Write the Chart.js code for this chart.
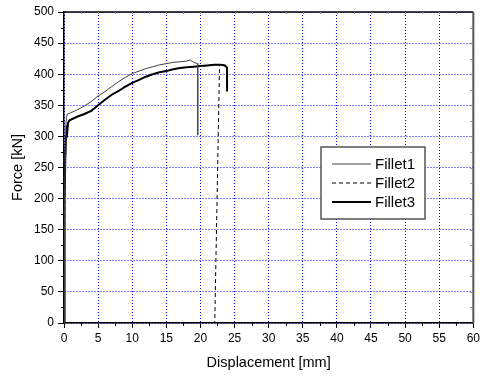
<!DOCTYPE html>
<html>
<head>
<meta charset="utf-8">
<script src="https://cdn.jsdelivr.net/npm/chart.js@4.4.1/dist/chart.umd.min.js"></script>
<style>
  html, body { margin: 0; padding: 0; background: #fff; }
  #wrap { width: 483px; height: 376px; }
</style>
</head>
<body>
<div id="wrap"><canvas id="myChart" width="483" height="376"></canvas></div>
<script>
const seriesLabels = ['Fillet1', 'Fillet2', 'Fillet3'];

const fillet1X = [0, 0.05, 0.12, 0.2, 0.28, 0.35, 0.5, 1, 2, 3, 4, 5, 6, 7, 8, 9, 10, 11, 12, 13, 14, 15, 16, 17, 18, 18.5, 19, 19.6, 19.6];
const fillet1Y = [0, 100, 200, 270, 315, 330, 336, 338, 343, 349, 356, 365, 372, 380, 388, 395, 401, 405, 409, 412, 415, 417, 419, 420, 421, 423, 419, 417, 302];

const fillet2X = [0, 0.05, 0.12, 0.2, 0.3, 0.5, 0.8, 2, 3, 4, 5, 6, 7, 8, 9, 10, 11, 12, 13, 14, 15, 16, 17, 18, 19, 20, 21, 22, 22.8, 22.1];
const fillet2Y = [0, 100, 200, 270, 305, 318, 326, 332, 336, 341, 350, 359, 367, 373, 380, 386, 391, 396, 400, 403, 405, 408, 410, 411, 412, 413, 414, 415, 415, 0];

const fillet3X = [0, 0.05, 0.12, 0.2, 0.3, 0.4, 0.5, 0.6, 0.8, 2, 3, 4, 5, 6, 7, 8, 9, 10, 11, 12, 13, 14, 15, 16, 17, 18, 19, 20, 21, 22, 23, 23.6, 23.9, 23.9];
const fillet3Y = [0, 100, 200, 270, 300, 318, 310, 322, 326, 332, 336, 341, 350, 359, 367, 373, 380, 386, 391, 396, 400, 403, 405, 408, 410, 411, 412, 413, 414, 415, 415, 414, 410, 372];

const xTicks = [0, 5, 10, 15, 20, 25, 30, 35, 40, 45, 50, 55, 60];
const yTicks = [0, 50, 100, 150, 200, 250, 300, 350, 400, 450, 500];

const FONT = 'Arial, "Liberation Sans", sans-serif';

function pts(xs, ys) {
  return xs.map((x, i) => ({ x: x, y: ys[i] }));
}

// frame, minor ticks on all sides
const framePlugin = {
  id: 'frame',
  afterDraw(chart) {
    const { ctx, chartArea: a, scales: { x, y } } = chart;
    ctx.save();
    ctx.setLineDash([]);
    ctx.strokeStyle = '#000';
    ctx.lineWidth = 1.5;
    ctx.beginPath();
    ctx.moveTo(a.left, a.top);
    ctx.lineTo(a.right, a.top);
    ctx.stroke();
    ctx.strokeStyle = '#555';
    ctx.lineWidth = 2;
    ctx.beginPath();
    ctx.moveTo(a.right, a.top);
    ctx.lineTo(a.right, a.bottom);
    ctx.stroke();

    ctx.strokeStyle = '#000';
    ctx.lineWidth = 1;
    ctx.beginPath();
    for (let v = 2.5; v < 60; v += 5) {
      const px = Math.round(x.getPixelForValue(v)) + 0.5;
      ctx.moveTo(px, a.bottom);
      ctx.lineTo(px, a.bottom + 3);
    }
    for (let v = 25; v < 500; v += 50) {
      const py = Math.round(y.getPixelForValue(v)) + 0.5;
      ctx.moveTo(a.left - 3, py);
      ctx.lineTo(a.left, py);
    }
    ctx.stroke();

    ctx.strokeStyle = '#888';
    ctx.beginPath();
    for (let v = 2.5; v < 60; v += 2.5) {
      const px = Math.round(x.getPixelForValue(v)) + 0.5;
      ctx.moveTo(px, a.top);
      ctx.lineTo(px, a.top + 2);
    }
    for (let v = 25; v < 500; v += 25) {
      const py = Math.round(y.getPixelForValue(v)) + 0.5;
      ctx.moveTo(a.right - 3, py);
      ctx.lineTo(a.right, py);
    }
    ctx.stroke();
    ctx.restore();
  }
};

// boxed legend inside the plot
const boxLegend = {
  id: 'boxLegend',
  afterDraw(chart) {
    const { ctx } = chart;
    const bx = 321, by = 147, bw = 104, bh = 72;
    ctx.save();
    ctx.fillStyle = '#fff';
    ctx.fillRect(bx, by, bw, bh);
    ctx.strokeStyle = '#555';
    ctx.lineWidth = 1.5;
    ctx.strokeRect(bx, by, bw, bh);
    ctx.font = '15px ' + FONT;
    ctx.textBaseline = 'middle';
    ctx.fillStyle = '#000';
    chart.data.datasets.forEach((ds, i) => {
      const ly = by + 17 + i * 19;
      ctx.strokeStyle = ds.borderColor;
      ctx.lineWidth = ds.borderWidth;
      ctx.setLineDash(ds.borderDash || []);
      ctx.beginPath();
      ctx.moveTo(332, ly);
      ctx.lineTo(371, ly);
      ctx.stroke();
      ctx.setLineDash([]);
      ctx.fillText(ds.label, 375, ly + 1);
    });
    ctx.restore();
  }
};

const data = {
  datasets: [
    {
      label: seriesLabels[0],
      data: pts(fillet1X, fillet1Y),
      borderColor: '#444',
      borderWidth: 1,
    },
    {
      label: seriesLabels[1],
      data: pts(fillet2X, fillet2Y),
      borderColor: '#000',
      borderWidth: 1,
      borderDash: [4, 3],
    },
    {
      label: seriesLabels[2],
      data: pts(fillet3X, fillet3Y),
      borderColor: '#000',
      borderWidth: 2,
    },
  ],
};

// grid lines take their dash from border.dash in Chart.js v4
const gridOpts = { color: '#0000ff', lineWidth: 1, tickColor: '#000', tickBorderDash: [] };
const borderOpts = { color: '#000', width: 1.5, dash: [1, 2] };

const config = {
  type: 'scatter',
  data: data,
  options: {
    responsive: false,
    animation: false,
    showLine: true,
    elements: { point: { radius: 0 }, line: { tension: 0, fill: false } },
    layout: { padding: { top: 12, right: 7, left: 0, bottom: 0 } },
    plugins: { legend: { display: false }, tooltip: { enabled: false } },
    scales: {
      x: {
        type: 'linear',
        min: 0,
        max: 60,
        afterFit(s) { s.height = 53; },
        afterBuildTicks(s) { s.ticks = xTicks.map(v => ({ value: v })); },
        ticks: { color: '#000', font: { family: FONT, size: 12 }, padding: 3, maxRotation: 0 },
        grid: Object.assign({ tickLength: 5 }, gridOpts),
        border: borderOpts,
        title: { display: true, text: 'Displacement [mm]', color: '#000', font: { family: FONT, size: 14.5 }, padding: { top: 4, bottom: 4 } },
      },
      y: {
        type: 'linear',
        min: 0,
        max: 500,
        afterFit(s) { s.width = 64; },
        afterBuildTicks(s) { s.ticks = yTicks.map(v => ({ value: v })); },
        ticks: { color: '#000', font: { family: FONT, size: 12 }, padding: 4 },
        grid: Object.assign({ tickLength: 6 }, gridOpts),
        border: borderOpts,
        title: { display: true, text: 'Force [kN]', color: '#000', font: { family: FONT, size: 14.5 }, padding: { top: 9, bottom: 4 } },
      },
    },
  },
  plugins: [framePlugin, boxLegend],
};

new Chart(document.getElementById('myChart'), config);
</script>
</body>
</html>
